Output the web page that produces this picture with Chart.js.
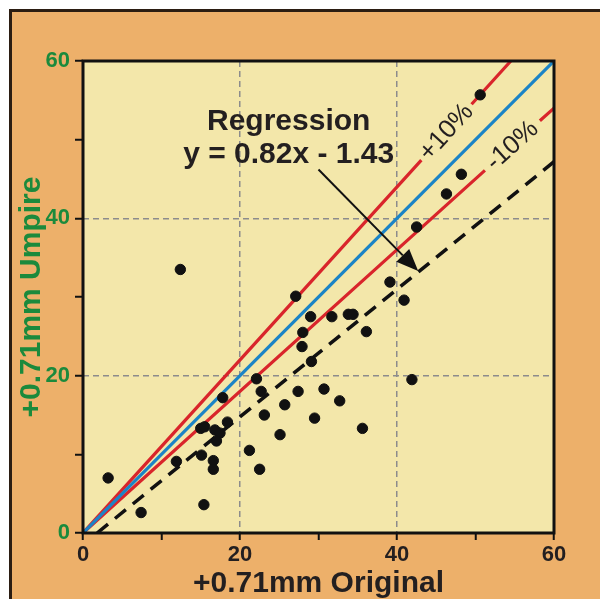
<!DOCTYPE html>
<html>
<head>
<meta charset="utf-8">
<title>+0.71mm Original vs Umpire</title>
<script src="https://cdn.jsdelivr.net/npm/chart.js@4.4.1/dist/chart.umd.min.js"></script>
<style>
  html, body { margin: 0; padding: 0; background: #fff; }
  #wrap { width: 600px; height: 599px; }
</style>
</head>
<body>
<div id="wrap"><canvas id="chart" width="600" height="599"></canvas></div>
<script>
    "use strict";

    // Observations (original vs umpire)
    var origX = [3.2, 7.4, 12.4, 11.9, 15.4, 15.1, 15.0, 15.5, 16.6, 16.6,
                 16.8, 17.45, 17.0, 17.8, 18.4, 21.2, 22.1, 22.7, 22.5, 23.1,
                 25.1, 25.7, 27.1, 27.4, 27.9, 28.0, 29.0, 29.1, 29.5, 30.7,
                 31.7, 32.7, 33.8, 34.4, 35.6, 36.1, 39.1, 40.9, 41.9, 42.5,
                 46.3, 48.2, 50.6];
    var umpireY = [7.0, 2.6, 33.5, 9.1, 3.6, 9.9, 13.3, 13.5, 9.2, 8.1,
                   13.1, 12.7, 11.7, 17.2, 14.1, 10.5, 19.6, 18.0, 8.1, 15.0,
                   12.5, 16.3, 30.1, 18.0, 23.7, 25.5, 27.5, 21.8, 14.6, 18.3,
                   27.5, 16.8, 27.8, 27.8, 13.3, 25.6, 31.9, 29.6, 19.5, 38.9,
                   43.1, 45.6, 55.7];

    // Reference lines (a null y leaves the gap for the label)
    var equalX = [0, 60];
    var equalY = [0, 60];
    var plus10X = [0, 43.1, 46.3, 49.5, 54.5];
    var plus10Y = [0, 47.4, null, 54.5, 60];
    var minus10X = [0, 51.2, 54.7, 58.2, 60];
    var minus10Y = [0, 46.1, null, 52.4, 54];
    var regX = [1.8, 60];
    var regY = [0, 47.2];

    var axisTicks = [0, 20, 40, 60];

    function pts(xs, ys) {
        return xs.map(function (x, i) { return {x: x, y: ys[i]}; });
    }

    var green = "#1b8a3c";
    var ink = "#231f20";

    // Frame, backgrounds and plot border
    var framePlugin = {
        id: "frame",
        beforeDraw: function (chart) {
            var c = chart.ctx, a = chart.chartArea;
            c.save();
            c.fillStyle = "#ffffff";
            c.fillRect(0, 0, chart.width, chart.height);
            c.fillStyle = "#2b1d12";
            c.fillRect(9, 9, chart.width, chart.height);
            c.fillStyle = "#edb06a";
            c.fillRect(12, 12, chart.width, chart.height);
            c.fillStyle = "#f3e7aa";
            c.fillRect(a.left, a.top, a.right - a.left, a.bottom - a.top);
            c.restore();
        },
        afterDatasetsDraw: function (chart) {
            var c = chart.ctx, a = chart.chartArea;
            var xs = chart.scales.x, ys = chart.scales.y;
            c.save();
            c.strokeStyle = "#111";
            c.lineWidth = 3;
            c.strokeRect(a.left, a.top, a.right - a.left, a.bottom - a.top);

            // Regression text
            c.fillStyle = ink;
            c.font = "bold 30px 'Liberation Sans', Arial, sans-serif";
            c.textAlign = "center";
            c.textBaseline = "alphabetic";
            c.fillText("Regression", xs.getPixelForValue(26.2), ys.getPixelForValue(51.2));
            c.fillText("y = 0.82x - 1.43", xs.getPixelForValue(26.2), ys.getPixelForValue(47.0));

            // Arrow
            var x1 = xs.getPixelForValue(30.0), y1 = ys.getPixelForValue(46.2);
            var x2 = xs.getPixelForValue(42.7), y2 = ys.getPixelForValue(33.3);
            var ang = Math.atan2(y2 - y1, x2 - x1);
            var head = 22, half = 9;
            var bx = x2 - head * Math.cos(ang), by = y2 - head * Math.sin(ang);
            c.strokeStyle = "#111";
            c.lineWidth = 2;
            c.beginPath();
            c.moveTo(x1, y1);
            c.lineTo(bx, by);
            c.stroke();
            c.fillStyle = "#111";
            c.beginPath();
            c.moveTo(x2, y2);
            c.lineTo(bx + half * Math.sin(ang), by - half * Math.cos(ang));
            c.lineTo(bx - half * Math.sin(ang), by + half * Math.cos(ang));
            c.closePath();
            c.fill();

            // Band labels, rotated along their lines
            function bandLabel(text, x, slope) {
                var px = xs.getPixelForValue(x), py = ys.getPixelForValue(slope * x);
                var qx = xs.getPixelForValue(x + 1), qy = ys.getPixelForValue(slope * (x + 1));
                c.save();
                c.translate(px, py);
                c.rotate(Math.atan2(qy - py, qx - px));
                c.fillStyle = ink;
                c.font = "26px 'Liberation Sans', Arial, sans-serif";
                c.textAlign = "center";
                c.textBaseline = "middle";
                c.fillText(text, 0, 0);
                c.restore();
            }
            bandLabel("+10%", 46.3, 1.1);
            bandLabel("-10%", 54.7, 0.9);
            c.restore();
        }
    };

    var ctx = document.getElementById("chart").getContext("2d");
    var myChart = new Chart(ctx, {
        type: "scatter",
        data: {
            datasets: [{
                label: "Observations",
                data: pts(origX, umpireY),
                backgroundColor: "#111",
                borderColor: "#111",
                pointRadius: 5.2,
                pointHoverRadius: 5.2,
                order: 0
            }, {
                label: "1:1",
                data: pts(equalX, equalY),
                showLine: true,
                borderColor: "#1b84c6",
                borderWidth: 3.2,
                pointRadius: 0,
                order: 2
            }, {
                label: "+10%",
                data: pts(plus10X, plus10Y),
                showLine: true,
                spanGaps: false,
                borderColor: "#d9252b",
                borderWidth: 3.2,
                pointRadius: 0,
                order: 3
            }, {
                label: "-10%",
                data: pts(minus10X, minus10Y),
                showLine: true,
                spanGaps: false,
                borderColor: "#d9252b",
                borderWidth: 3.2,
                pointRadius: 0,
                order: 3
            }, {
                label: "Regression",
                data: pts(regX, regY),
                showLine: true,
                borderColor: "#111",
                borderWidth: 3.5,
                borderDash: [14, 9],
                pointRadius: 0,
                order: 1
            }]
        },
        options: {
            responsive: false,
            animation: false,
            layout: {padding: {top: 61, right: 46, left: 0, bottom: 0}},
            plugins: {legend: {display: false}, tooltip: {enabled: false}},
            scales: {
                x: {
                    type: "linear",
                    min: 0,
                    max: 60,
                    afterFit: function (scale) { scale.height = 66; },
                    ticks: {
                        stepSize: 10,
                        autoSkip: false,
                        maxRotation: 0,
                        padding: 2,
                        color: ink,
                        font: {family: "'Liberation Sans', Arial, sans-serif", size: 22, weight: "bold"},
                        callback: function (v) { return axisTicks.indexOf(v) >= 0 ? v : ""; }
                    },
                    grid: {
                        color: function (c) {
                            return c.tick && (c.tick.value === 20 || c.tick.value === 40) ? "#8c8c8c" : "rgba(0,0,0,0)";
                        },
                        lineWidth: 1.5,
                        tickColor: "#111",
                        tickWidth: 2,
                        tickLength: 7
                    },
                    border: {display: false, dash: [6, 4]},
                    title: {
                        display: true,
                        text: "+0.71mm Original",
                        color: ink,
                        padding: {top: 0, bottom: 0},
                        font: {family: "'Liberation Sans', Arial, sans-serif", size: 30, weight: "bold", lineHeight: 1}
                    }
                },
                y: {
                    type: "linear",
                    min: 0,
                    max: 60,
                    afterFit: function (scale) { scale.width = 83; },
                    ticks: {
                        stepSize: 10,
                        autoSkip: false,
                        padding: 5,
                        color: green,
                        font: {family: "'Liberation Sans', Arial, sans-serif", size: 22, weight: "bold"},
                        callback: function (v) { return axisTicks.indexOf(v) >= 0 ? v : ""; }
                    },
                    grid: {
                        color: function (c) {
                            return c.tick && (c.tick.value === 20 || c.tick.value === 40) ? "#8c8c8c" : "rgba(0,0,0,0)";
                        },
                        lineWidth: 1.5,
                        tickColor: "#111",
                        tickWidth: 2,
                        tickLength: 8
                    },
                    border: {display: false, dash: [6, 4]},
                    title: {
                        display: true,
                        text: "+0.71mm Umpire",
                        color: green,
                        padding: {top: 17, bottom: 0},
                        font: {family: "'Liberation Sans', Arial, sans-serif", size: 30, weight: "bold", lineHeight: 1}
                    }
                }
            }
        },
        plugins: [framePlugin]
    });
</script>
</body>
</html>
